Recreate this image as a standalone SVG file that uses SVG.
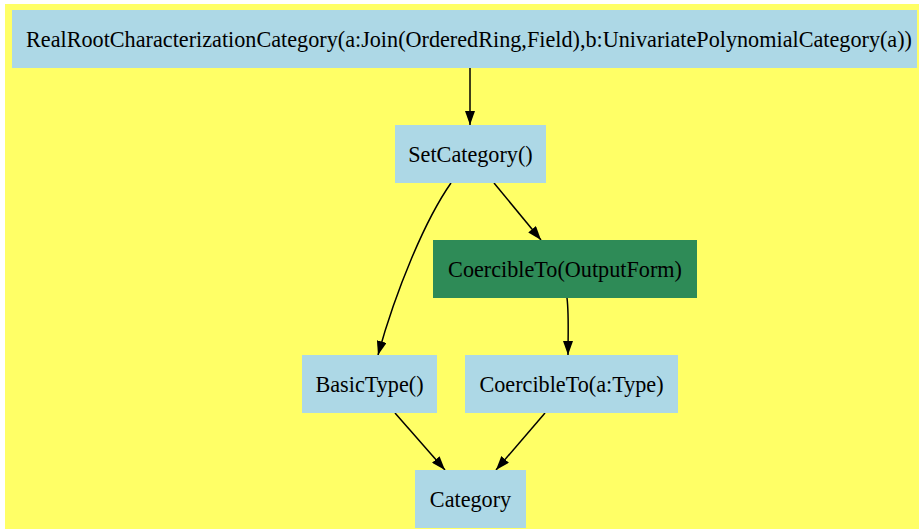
<svg xmlns="http://www.w3.org/2000/svg" width="919" height="531" viewBox="0 0 919 531">
<defs>
<style>
.n{fill:#add8e6;stroke:none}
.g{fill:#2e8b57;stroke:none}
.t{font-family:"Liberation Serif","DejaVu Serif",serif;font-size:22.2px;fill:#000;text-anchor:middle}
.e{fill:none;stroke:#000;stroke-width:1.5}
</style>
<marker id="ah" viewBox="0 0 14 10" refX="14" refY="5" markerWidth="14" markerHeight="10" markerUnits="userSpaceOnUse" orient="auto">
<path d="M0,0 L14,5 L0,10 z" fill="#000"/>
</marker>
</defs>
<rect x="0" y="0" width="919" height="531" fill="#fff"/>
<rect x="5" y="4" width="914" height="525" fill="#ffff66"/>
<g id="edges">
<path class="e" d="M470,68 L470,125" marker-end="url(#ah)"/>
<path class="e" d="M494,183 L541,240" marker-end="url(#ah)"/>
<path class="e" d="M451,183 C425,220 396,290 378,355" marker-end="url(#ah)"/>
<path class="e" d="M567,298 C569,314 568,335 568,355" marker-end="url(#ah)"/>
<path class="e" d="M395,413 L445,470" marker-end="url(#ah)"/>
<path class="e" d="M545,413 L496,470" marker-end="url(#ah)"/>
</g>
<g id="n_top"><rect class="n" x="12" y="10" width="905" height="58"/><text class="t" x="469" y="47">RealRootCharacterizationCategory(a:Join(OrderedRing,Field),b:UnivariatePolynomialCategory(a))</text></g>
<g id="n_set"><rect class="n" x="395" y="125" width="151" height="58"/><text class="t" x="470.5" y="162">SetCategory()</text></g>
<g id="n_coerceOut"><rect class="g" x="433" y="240" width="264" height="58"/><text class="t" x="565" y="277">CoercibleTo(OutputForm)</text></g>
<g id="n_basic"><rect class="n" x="302" y="355" width="135" height="58"/><text class="t" x="369.5" y="392">BasicType()</text></g>
<g id="n_coerceType"><rect class="n" x="465" y="355" width="213" height="58"/><text class="t" x="571.5" y="392">CoercibleTo(a:Type)</text></g>
<g id="n_cat"><rect class="n" x="415" y="470" width="111" height="58"/><text class="t" x="470.5" y="507">Category</text></g>
</svg>
